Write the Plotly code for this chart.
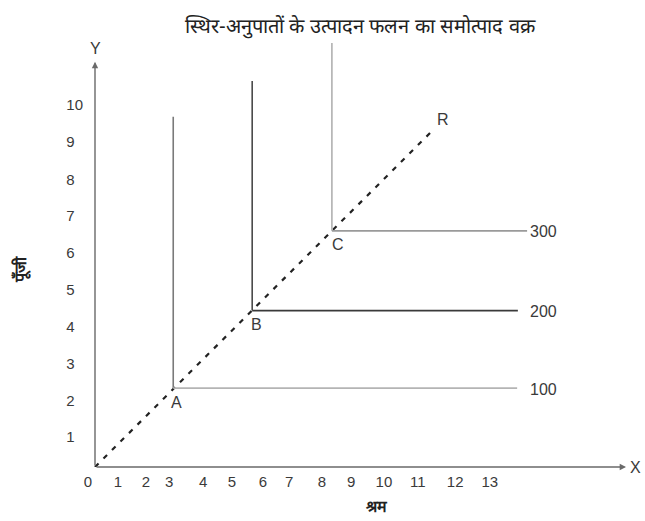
import plotly.graph_objects as go

# ---------------- data ----------------
isoquant_output = [100, 200, 300]
point_labels = ["A", "B", "C"]
corner_labor = [2.12, 4.26, 6.42]       # labour at the corner of each L-shaped isoquant
corner_capital = [2.14, 4.24, 6.40]     # capital at the corner
vertical_top = [9.49, 10.46, 11.49]     # capital where the vertical arm ends
horizontal_end = [11.44, 11.46, 11.71]  # labour where the horizontal arm ends
ray_labor = [0, 9.16]                   # expansion path OR
ray_capital = [0, 9.13]

x_tick_labels = ["0", "1", "2", "3", "4", "5", "6", "7", "8", "9", "10", "11", "12", "13"]
x_tick_vals = [-0.19, 0.62, 1.38, 2.01, 2.93, 3.71, 4.55, 5.26, 6.15, 6.94, 7.83, 8.75, 9.76, 10.70]
y_tick_labels = ["1", "2", "3", "4", "5", "6", "7", "8", "9", "10"]
y_tick_vals = [0.81, 1.79, 2.79, 3.79, 4.80, 5.80, 6.80, 7.78, 8.81, 9.81]

title_text = "स्थिर-अनुपातों के उत्पादन फलन का समोत्पाद वक्र"
x_title = "श्रम"
y_title = "पूँजी"
x_axis_end = 14.39
y_axis_end = 10.98

# ---------------- geometry ----------------
W, H = 645, 521
U = 36.9            # px per unit
OX, OY = 95, 467    # origin in px
ML, MR, MT, MB = 77, 5, 30, H - OY
x_lo = -(OX - ML) / U
x_hi = (W - MR - OX) / U
y_lo = 0
y_hi = (OY - MT) / U

vert_colors = ["#7a7a7a", "#4a4a4a", "#b0b0b0"]
horiz_colors = ["#b4b4b4", "#3a3a3a", "#9a9a9a"]
TXT = "#3a3a3a"
FONT = "Liberation Sans, Arial, sans-serif"

fig = go.Figure()

# expansion path (dashed)
fig.add_trace(go.Scatter(x=ray_labor, y=ray_capital, mode="lines",
                         line=dict(color="#222222", width=2.2, dash="5px,7px"),
                         hoverinfo="skip", showlegend=False))

for i in range(len(isoquant_output)):
    fig.add_trace(go.Scatter(x=[corner_labor[i], corner_labor[i]],
                             y=[corner_capital[i], vertical_top[i]], mode="lines",
                             line=dict(color=vert_colors[i], width=1.6),
                             hoverinfo="skip", showlegend=False))
    fig.add_trace(go.Scatter(x=[corner_labor[i], horizontal_end[i]],
                             y=[corner_capital[i], corner_capital[i]], mode="lines",
                             line=dict(color=horiz_colors[i], width=1.8),
                             hoverinfo="skip", showlegend=False))

annotations = []
# axes with arrowheads
annotations.append(dict(x=x_axis_end, y=0, ax=0, ay=0, xref="x", yref="y", axref="x", ayref="y",
                        text="", showarrow=True, arrowhead=2, arrowsize=0.9, arrowwidth=1.4,
                        arrowcolor="#6a6a6a"))
annotations.append(dict(x=0, y=y_axis_end, ax=0, ay=0, xref="x", yref="y", axref="x", ayref="y",
                        text="", showarrow=True, arrowhead=2, arrowsize=0.9, arrowwidth=1.4,
                        arrowcolor="#6a6a6a"))
annotations.append(dict(x=x_axis_end, y=0, xref="x", yref="y", text="X", showarrow=False,
                        xanchor="left", yanchor="middle", xshift=2, font=dict(size=16, color=TXT, family=FONT)))
annotations.append(dict(x=0, y=y_axis_end, xref="x", yref="y", text="Y", showarrow=False,
                        xanchor="center", yanchor="bottom", yshift=3, font=dict(size=16, color=TXT, family=FONT)))
annotations.append(dict(x=ray_labor[1], y=ray_capital[1], xref="x", yref="y", text="R", showarrow=False,
                        xanchor="center", yanchor="middle", xshift=10, yshift=11,
                        font=dict(size=16, color=TXT, family=FONT)))

for i in range(len(isoquant_output)):
    annotations.append(dict(x=corner_labor[i], y=corner_capital[i], xref="x", yref="y",
                            text=point_labels[i], showarrow=False, xanchor="center", yanchor="middle",
                            xshift=3 + i * 1.5, yshift=-14, font=dict(size=16, color=TXT, family=FONT)))
    annotations.append(dict(x=max(horizontal_end), y=corner_capital[i], xref="x", yref="y",
                            text=str(isoquant_output[i]), showarrow=False, xanchor="left", yanchor="middle",
                            xshift=1, yshift=-1, font=dict(size=16, color=TXT, family=FONT)))

# axis titles
annotations.append(dict(x=(377 - ML) / (W - ML - MR), y=-(507 - OY) / (OY - MT), xref="paper", yref="paper",
                        text="<b>" + x_title + "</b>", showarrow=False, xanchor="center", yanchor="middle",
                        font=dict(size=16, color="#222222", family=FONT)))
annotations.append(dict(x=-(ML - 21) / (W - ML - MR), y=(OY - 270) / (OY - MT), xref="paper", yref="paper",
                        text="<b>" + y_title + "</b>", showarrow=False, textangle=-90, xanchor="center", yanchor="middle",
                        font=dict(size=16, color="#222222", family=FONT)))

fig.update_layout(
    width=W, height=H,
    margin=dict(l=ML, r=MR, t=MT, b=MB, pad=0),
    paper_bgcolor="white", plot_bgcolor="white",
    title=dict(text=title_text, x=360 / W, xanchor="center", y=1 - 26 / H, yanchor="middle",
               font=dict(size=20, color="#222222", family=FONT)),
    annotations=annotations,
    showlegend=False,
)
fig.update_xaxes(range=[x_lo, x_hi], showgrid=False, zeroline=False, showline=False,
                 ticks="", tickvals=x_tick_vals, ticktext=x_tick_labels, ticklabelstandoff=4,
                 tickfont=dict(size=15, color=TXT, family=FONT), automargin=False, fixedrange=True)
fig.update_yaxes(range=[y_lo, y_hi], showgrid=False, zeroline=False, showline=False,
                 ticks="", tickvals=y_tick_vals, ticktext=[t if len(t) > 1 else t + "\u2007" for t in y_tick_labels],
                 ticklabelstandoff=-7,
                 tickfont=dict(size=15, color=TXT, family=FONT), automargin=False, fixedrange=True)

fig.write_html("out.html", config={"displayModeBar": False},
               post_script="document.body.style.margin='0';document.body.style.padding='0';")
